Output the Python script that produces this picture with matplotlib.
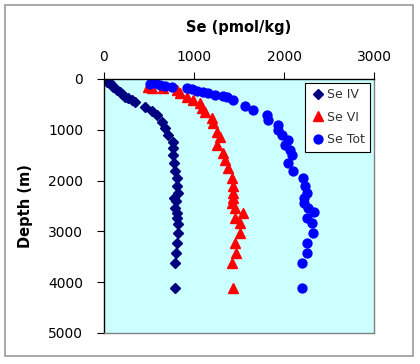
import matplotlib
matplotlib.use("Agg")
import matplotlib.pyplot as plt
from matplotlib.patches import Rectangle

plt.rcParams['font.family'] = ['DejaVu Sans']

se4_x = [33, 67, 89, 100, 144, 178, 200, 233, 267, 311, 344, 456, 533, 589, 644, 678, 711,
         767, 767, 767, 778, 789, 811, 811, 822, 778, 800, 789, 811, 811, 822, 822, 811,
         800, 789, 789]
se4_d = [60, 79, 119, 158, 218, 257, 297, 356, 376, 416, 455, 554, 634, 713, 851, 970, 1109,
         1248, 1366, 1505, 1644, 1802, 1941, 2099, 2238, 2337, 2396, 2535, 2634, 2733, 2851,
         3030, 3228, 3426, 3624, 4119]

se6_x = [511, 489, 533, 656, 811, 844, 922, 989, 1067, 1089, 1122, 1200, 1211, 1256, 1289,
         1256, 1322, 1344, 1378, 1422, 1433, 1433, 1433, 1422, 1456, 1544, 1456, 1511, 1511,
         1456, 1467, 1422, 1433]
se6_d = [79, 158, 178, 178, 218, 277, 356, 416, 475, 574, 653, 772, 871, 1050, 1149,
         1307, 1465, 1604, 1743, 1941, 2099, 2238, 2337, 2436, 2535, 2634, 2733, 2832, 3030,
         3228, 3426, 3624, 4119]

tot_x = [511, 567, 622, 678, 756, 922, 978, 1033, 1100, 1156, 1233, 1322, 1367, 1433, 1567,
         1656, 1811, 1822, 1933, 1933, 1978, 2044, 2011, 2067, 2089, 2044, 2100, 2211, 2233,
         2256, 2222, 2222, 2267, 2333, 2256, 2311, 2322, 2256, 2256, 2200, 2200]
tot_d = [99, 79, 119, 139, 158, 178, 198, 238, 257, 277, 317, 337, 356, 416, 535,
         614, 713, 812, 911, 1010, 1109, 1208, 1307, 1406, 1505, 1644, 1802, 1941, 2099,
         2238, 2337, 2436, 2535, 2614, 2733, 2832, 3030, 3228, 3426, 3624, 4119]

labels = ['Se IV', 'Se VI', 'Se Tot']
x_ticks = [0, 1000, 2000, 3000]
y_ticks = [0, 1000, 2000, 3000, 4000, 5000]

W, H = 420, 364
fig = plt.figure(figsize=(W / 100, H / 100), dpi=100)
fig.patch.set_facecolor('white')
fig.patches.append(Rectangle((5 / W, 1 - 356 / H), 408 / W, 351 / H, transform=fig.transFigure,
                             fill=False, edgecolor='#999999', linewidth=1.2))

ax = fig.add_axes([104 / W, 1 - 333 / H, 270 / W, 254 / H])
ax.set_facecolor('#CCFFFF')

ax.plot(se4_x, se4_d, linestyle='none', marker='D', markersize=5.4, color='#000080', label=labels[0])
ax.plot(se6_x, se6_d, linestyle='none', marker='^', markersize=7, color='#FF0000', label=labels[1])
ax.plot(tot_x, tot_d, linestyle='none', marker='o', markersize=6.4, color='#0000FF', label=labels[2])

ax.set_xlim(0, 3000)
ax.set_ylim(5000, 0)
ax.set_xticks(x_ticks)
ax.set_yticks(y_ticks)
ax.xaxis.tick_top()
ax.xaxis.set_label_position('top')
ax.tick_params(axis='both', direction='out', length=5, width=0.8, labelsize=10, colors='black')
ax.tick_params(axis='x', pad=6)
ax.tick_params(axis='y', pad=10)
ax.set_xlabel('Se (pmol/kg)', fontsize=10.5, fontweight='bold', labelpad=13)
ax.set_ylabel('Depth (m)', fontsize=10.5, fontweight='bold', labelpad=11)

ax.spines['left'].set_color('black')
ax.spines['top'].set_color('black')
ax.spines['right'].set_color('#808080')
ax.spines['bottom'].set_color('#808080')
for s in ax.spines.values():
    s.set_linewidth(1.0)

leg = ax.legend(loc='upper right', bbox_to_anchor=(1.0, 1.0), frameon=True, fancybox=False,
                edgecolor='black', facecolor='white', framealpha=1, fontsize=9,
                handletextpad=0.1, handlelength=1.2, borderpad=0.45, labelspacing=0.75,
                borderaxespad=0.3)
leg.get_frame().set_linewidth(0.8)
for t in leg.get_texts():
    t.set_color('#333333')

fig.savefig('out.png', dpi=100)
